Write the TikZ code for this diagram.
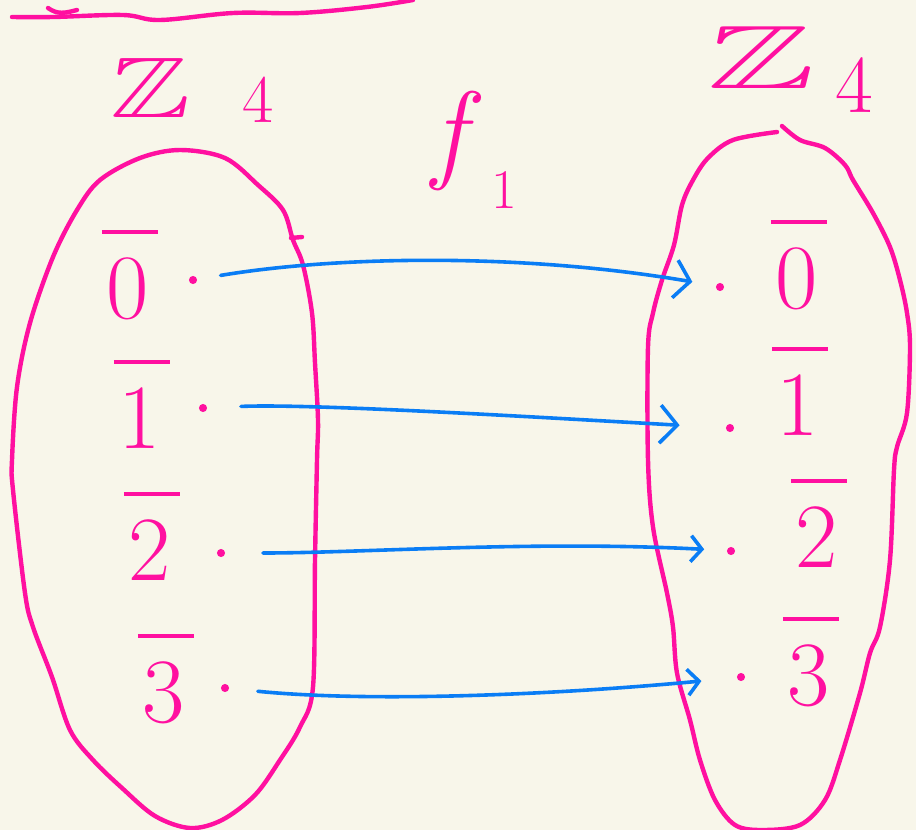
\documentclass[tikz,border=0pt]{standalone}
\usepackage{amssymb}
\usepackage{fontspec}
\usetikzlibrary{arrows.meta,bending,calc}
\definecolor{paper}{HTML}{F8F6EA}
\definecolor{ink}{HTML}{FF10A0}
\definecolor{mapblue}{HTML}{0A7DF5}

% residue class: a digit with a bar above it
\newcommand\resclass[1]{\leavevmode\rlap{\kern-5pt\rule[84pt]{56pt}{4pt}}#1}

\tikzset{
  pen/.style={draw=ink, line width=4.4pt, line cap=round, line join=round},
  lbl/.style={text=ink, font=\fontsize{92}{92}\selectfont, inner sep=0pt, anchor=base},
  setname/.style={text=ink, inner sep=0pt, anchor=base west},
  elem/.style={circle, draw=ink, fill=ink, line width=1pt, inner sep=0pt, minimum size=7pt},
  fn/.style={draw=mapblue, line width=3.6pt, line cap=round},
  bighead/.style={-{Straight Barb[bend, length=15pt, width=38pt]}},
  smallhead/.style={-{Straight Barb[bend, length=11pt, width=26pt]}}
}

\begin{document}
\begin{tikzpicture}[x=1pt, y=-1pt]
  \fill[paper] (0,0) rectangle (916,830);
  \useasboundingbox (0,0) rectangle (916,830);

  % underline at the top edge
  \draw[pen] plot[smooth, tension=0.6] coordinates
    {(12,17) (53,17) (123,15) (160,20) (233,13) (300,13) (367,7) (413,0)};
  \draw[pen] (48,8) .. controls (58,15) and (65,13) .. (77,10);

  % domain set (left blob)
  \draw[pen] plot[smooth cycle, tension=0.55] coordinates {
    (180,150) (225,158) (258,185) (283,210) (293,240) (303,265) (312,313)
    (315,363) (318,420) (317,460) (315,560) (313,687) (300,727) (280,760)
    (255,795) (222,820) (190,828) (155,816) (122,788) (93,760) (70,730)
    (52,677) (33,627) (25,593) (13,490) (12,460) (17,387) (30,323)
    (53,257) (77,210) (100,180) (140,158)};
  \draw[pen] (291,238) -- (302,237);

  % codomain set (right blob)
  \draw[pen] plot[smooth, tension=0.55] coordinates {
    (782,126) (800,140) (825,148) (845,165) (853,180) (873,213) (890,247)
    (900,280) (907,313) (910,347) (907,413) (897,447) (894,470) (890,560)
    (880,627) (870,653) (860,693) (840,760) (825,800) (800,825) (762,830)
    (735,825) (715,800) (700,760) (690,720) (677,673) (673,627) (667,593)
    (653,527) (648,460) (648,347) (653,313) (662,280) (674,245) (682,205)
    (693,180) (708,158) (733,140) (777,132)};

  % set names and map name
  \node[setname, font=\fontsize{86}{86}\selectfont] (dom) at (110,117)
    {\scalebox{1.4}[1]{$\mathbb{Z}$}\hspace{52pt}\raisebox{-5pt}{\fontsize{68}{68}\selectfont 4}};
  \node[setname, font=\fontsize{90}{90}\selectfont] (cod) at (707,88)
    {\scalebox{1.8}[1]{$\mathbb{Z}$}\hspace{20pt}\raisebox{-24pt}{\fontsize{82}{82}\selectfont 4}};
  \node[setname, font=\fontsize{110}{110}\selectfont] (f) at (432,168)
    {\itshape f\hspace{26pt}\raisebox{-40pt}{\upshape\fontsize{56}{56}\selectfont 1}};

  % residue classes in the domain
  \node[lbl] (a0) at (128,318) {\resclass{0}};
  \node[lbl] (a1) at (140,448) {\resclass{1}};
  \node[lbl] (a2) at (150,580) {\resclass{2}};
  \node[lbl] (a3) at (164,722) {\resclass{3}};

  % residue classes in the codomain
  \node[lbl] (b0) at (797,308) {\resclass{0}};
  \node[lbl] (b1) at (798,435) {\resclass{1}};
  \node[lbl] (b2) at (817,567) {\resclass{2}};
  \node[lbl] (b3) at (809,705) {\resclass{3}};

  % element points
  \node[elem] (l0) at (193,280) {};
  \node[elem] (l1) at (203,408) {};
  \node[elem] (l2) at (221,553) {};
  \node[elem] (l3) at (225,688) {};
  \node[elem] (r0) at (720,287) {};
  \node[elem] (r1) at (730,428) {};
  \node[elem] (r2) at (731,551) {};
  \node[elem] (r3) at (741,677) {};

  % the map f_1
  \draw[fn, bighead, shorten <=24pt, shorten >=24pt]
    (l0) .. controls ($(l0)+(150,-25)$) and ($(r0)+(-180,-35)$) .. (r0);
  \draw[fn, bighead, shorten <=34pt, shorten >=44pt]
    (l1) .. controls ($(l1)+(120,-5)$) and ($(r1)+(-150,-8)$) .. (r1);
  \draw[fn, smallhead, shorten <=38pt, shorten >=23pt]
    (l2) .. controls ($(l2)+(150,0)$) and ($(r2)+(-180,-12)$) .. (r2);
  \draw[fn, smallhead, shorten <=29pt, shorten >=35pt]
    (l3) .. controls ($(l3)+(150,15)$) and ($(r3)+(-170,18)$) .. (r3);
\end{tikzpicture}
\end{document}
